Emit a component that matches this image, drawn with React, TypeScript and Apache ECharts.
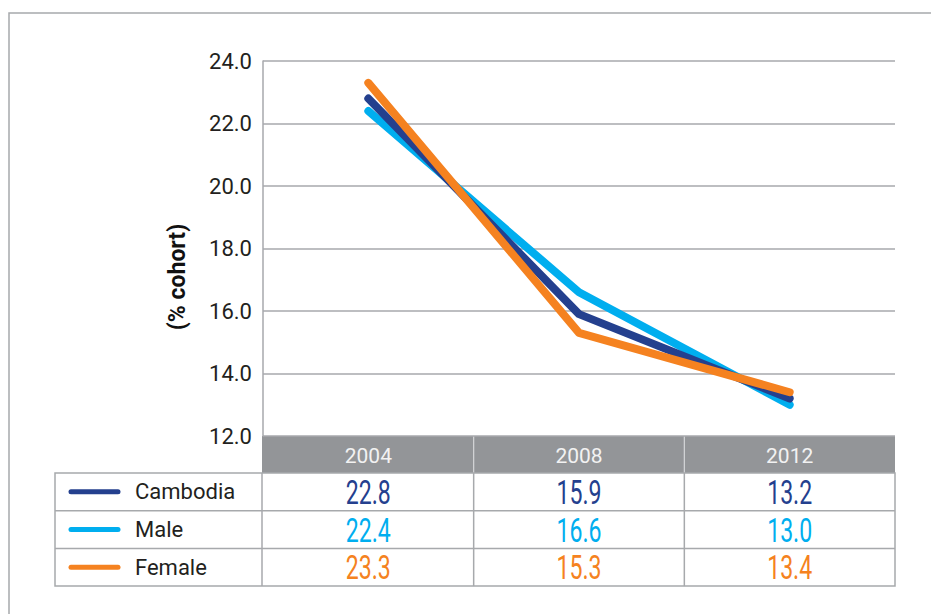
import React, { useEffect, useRef } from "react";
import * as echarts from "echarts";

// Cohort share by year (%), as listed in the table under the plot
const years = ["2004", "2008", "2012"];
const seriesNames = ["Cambodia", "Male", "Female"];
const cambodia = [22.8, 15.9, 13.2];
const male = [22.4, 16.6, 13.0];
const female = [23.3, 15.3, 13.4];
const yAxisTitle = "(% cohort)";

const COLORS: Record<string, string> = {
  Cambodia: "#24408e",
  Male: "#00aeef",
  Female: "#f58220",
};

const W = 931;
const H = 614;
const GRID_L = 263;
const GRID_R = 895;
const GRID_T = 61;
const GRID_B = 436;
const HEADER_H = 37;
const ROW_H = 37.7;
const TABLE_L = 55;
const GREY = "#a7a9ac";
const FONT = "Roboto, 'Liberation Sans', Arial, sans-serif";

export default function App() {
  const ref = useRef<HTMLDivElement>(null);

  useEffect(() => {
    if (!ref.current) return;
    const chart = echarts.init(ref.current, undefined, { renderer: "svg" });

    const values: Record<string, number[]> = {
      Cambodia: cambodia,
      Male: male,
      Female: female,
    };

    const colW = (GRID_R - GRID_L) / years.length;
    const colEdges = years.map((_, i) => GRID_L + i * colW);
    const tableTop = GRID_B + HEADER_H;
    const tableBottom = tableTop + ROW_H * seriesNames.length;

    const graphics: any[] = [];

    // outer frame
    graphics.push({
      type: "rect",
      shape: { x: 9, y: 13, width: W + 40, height: H + 40 },
      style: { fill: "none", stroke: GREY, lineWidth: 1.5 },
      silent: true,
    });

    // year header band
    graphics.push({
      type: "rect",
      shape: { x: GRID_L - 1, y: GRID_B, width: GRID_R - GRID_L + 1, height: HEADER_H },
      style: { fill: "#939598" },
    });
    colEdges.slice(1).forEach((x) => {
      graphics.push({
        type: "line",
        shape: { x1: x, y1: GRID_B, x2: x, y2: tableTop },
        style: { stroke: "#d6d7d9", lineWidth: 1.2 },
      });
    });
    years.forEach((yr, i) => {
      graphics.push({
        type: "text",
        x: colEdges[i] + colW / 2,
        y: GRID_B + HEADER_H / 2 + 1,
        style: {
          text: yr,
          fill: "#f2f2f2",
          fontSize: 21,
          fontFamily: FONT,
          textAlign: "center",
          textVerticalAlign: "middle",
        },
      });
    });

    // table body grid
    graphics.push({
      type: "rect",
      shape: { x: TABLE_L, y: tableTop, width: GRID_R - TABLE_L, height: tableBottom - tableTop },
      style: { fill: "none", stroke: GREY, lineWidth: 1.5 },
    });
    for (let r = 1; r < seriesNames.length; r++) {
      const y = tableTop + r * ROW_H;
      graphics.push({
        type: "line",
        shape: { x1: TABLE_L, y1: y, x2: GRID_R, y2: y },
        style: { stroke: GREY, lineWidth: 1.5 },
      });
    }
    [GRID_L - 1, ...colEdges.slice(1)].forEach((x) => {
      graphics.push({
        type: "line",
        shape: { x1: x, y1: tableTop, x2: x, y2: tableBottom },
        style: { stroke: GREY, lineWidth: 1.5 },
      });
    });

    // legend keys and values per row
    seriesNames.forEach((name, r) => {
      const cy = tableTop + r * ROW_H + ROW_H / 2;
      graphics.push({
        type: "line",
        shape: { x1: 71, y1: cy, x2: 118, y2: cy },
        style: { stroke: COLORS[name], lineWidth: 5, lineCap: "round" },
      });
      graphics.push({
        type: "text",
        x: 135,
        y: cy,
        style: {
          text: name,
          fill: "#231f20",
          fontSize: 22,
          fontFamily: FONT,
          textAlign: "left",
          textVerticalAlign: "middle",
        },
      });
      values[name].forEach((v, i) => {
        graphics.push({
          type: "text",
          x: colEdges[i] + colW / 2,
          y: cy + 1,
          scaleX: 0.7,
          style: {
            text: v.toFixed(1),
            fill: COLORS[name],
            fontSize: 33,
            fontFamily: FONT,
            textAlign: "center",
            textVerticalAlign: "middle",
          },
        });
      });
    });

    // rotated y-axis title
    graphics.push({
      type: "text",
      x: 177,
      y: 277,
      rotation: Math.PI / 2,
      style: {
        text: yAxisTitle,
        fill: "#111",
        fontSize: 23,
        fontWeight: "bold",
        fontFamily: FONT,
        textAlign: "center",
        textVerticalAlign: "middle",
      },
    });

    const drawOrder = ["Male", "Cambodia", "Female"];

    chart.setOption({
      animation: false,
      backgroundColor: "#ffffff",
      grid: {
        left: GRID_L,
        right: W - GRID_R,
        top: GRID_T,
        bottom: H - GRID_B,
        containLabel: false,
      },
      xAxis: {
        type: "category",
        data: years,
        boundaryGap: true,
        axisLine: { show: false },
        axisTick: { show: false },
        axisLabel: { show: false },
        splitLine: { show: false },
      },
      yAxis: {
        type: "value",
        min: 12,
        max: 24,
        interval: 2,
        axisLine: { show: true, lineStyle: { color: GREY, width: 1.5 } },
        axisTick: { show: false },
        axisLabel: {
          formatter: (v: number) => v.toFixed(1),
          color: "#231f20",
          fontSize: 22,
          fontFamily: FONT,
          margin: 11,
        },
        splitLine: { show: true, lineStyle: { color: GREY, width: 1.5 } },
      },
      series: drawOrder.map((name) => ({
        name,
        type: "line",
        data: values[name],
        symbol: "none",
        lineStyle: { color: COLORS[name], width: 8, cap: "round", join: "round" },
        itemStyle: { color: COLORS[name] },
      })),
      graphic: graphics,
    });

    return () => chart.dispose();
  }, []);

  return (
    <div
      ref={ref}
      style={{ position: "absolute", left: 0, top: 0, width: W, height: H }}
    />
  );
}
